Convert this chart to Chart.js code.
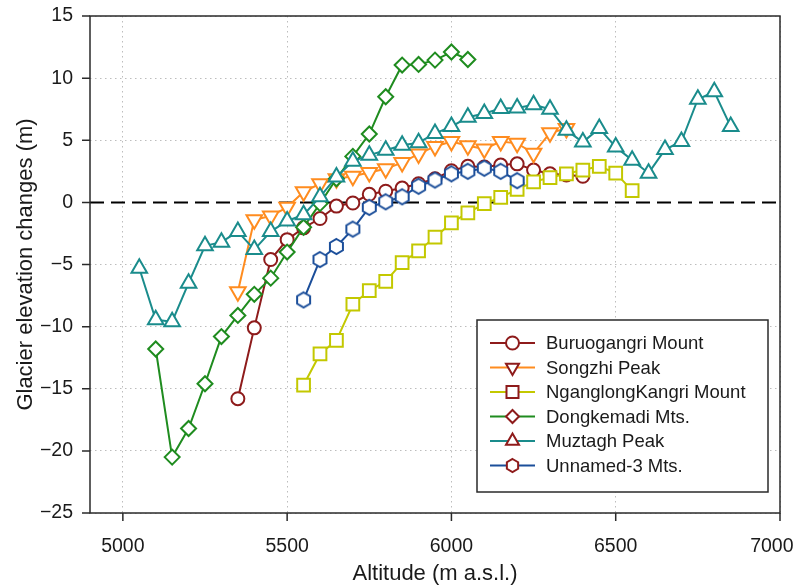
<!DOCTYPE html>
<html>
<head>
<meta charset="utf-8">
<script src="https://cdn.jsdelivr.net/npm/chart.js@4/dist/chart.umd.min.js"></script>
<style>
  html, body { margin: 0; padding: 0; background: #fff; }
  #wrap { width: 797px; height: 587px; }
</style>
</head>
<body>
<div id="wrap"><canvas id="c" width="797" height="587"></canvas></div>
<script>
// Glacier surface elevation change (m) per 50 m altitude band (m a.s.l.)
const buruoAlt = [5350,5400,5450,5500,5550,5600,5650,5700,5750,5800,5850,5900,5950,6000,6050,6100,6150,6200,6250,6300,6350,6400];
const buruoDh  = [-15.8,-10.1,-4.6,-3.0,-2.05,-1.3,-0.3,-0.05,0.65,0.9,1.15,1.5,1.9,2.55,2.9,2.85,3.0,3.1,2.6,2.3,2.2,2.1];

const songzhiAlt = [5350,5400,5450,5500,5550,5600,5650,5700,5750,5800,5850,5900,5950,6000,6050,6100,6150,6200,6250,6300,6350];
const songzhiDh  = [-7.2,-1.4,-1.1,-0.4,0.85,1.5,1.9,2.1,2.4,2.7,3.2,3.9,4.5,4.9,4.55,4.3,4.9,4.75,3.95,5.6,5.95];

const nganglongAlt = [5550,5600,5650,5700,5750,5800,5850,5900,5950,6000,6050,6100,6150,6200,6250,6300,6350,6400,6450,6500,6550];
const nganglongDh  = [-14.7,-12.2,-11.1,-8.2,-7.1,-6.35,-4.85,-3.9,-2.8,-1.65,-0.85,-0.1,0.4,1.05,1.65,2.0,2.3,2.6,2.9,2.35,0.95];

const dongkemadiAlt = [5100,5150,5200,5250,5300,5350,5400,5450,5500,5550,5600,5650,5700,5750,5800,5850,5900,5950,6000,6050];
const dongkemadiDh  = [-11.8,-20.5,-18.2,-14.6,-10.8,-9.1,-7.4,-6.1,-4.0,-2.0,-0.1,1.9,3.7,5.5,8.5,11.05,11.1,11.45,12.1,11.5];

const muztaghAlt = [5050,5100,5150,5200,5250,5300,5350,5400,5450,5500,5550,5600,5650,5700,5750,5800,5850,5900,5950,6000,6050,6100,6150,6200,6250,6300,6350,6400,6450,6500,6550,6600,6650,6700,6750,6800,6850];
const muztaghDh  = [-5.3,-9.45,-9.6,-6.5,-3.5,-3.2,-2.35,-3.8,-2.35,-1.5,-1.0,0.45,2.05,3.3,3.8,4.2,4.6,4.8,5.55,6.1,6.85,7.15,7.55,7.6,7.85,7.5,5.8,4.85,5.95,4.45,3.4,2.35,4.25,4.9,8.3,8.9,6.1];

const unnamedAlt = [5550,5600,5650,5700,5750,5800,5850,5900,5950,6000,6050,6100,6150,6200];
const unnamedDh  = [-7.85,-4.6,-3.55,-2.15,-0.4,0.05,0.45,1.3,1.8,2.3,2.5,2.75,2.5,1.75];

const seriesNames = ['Buruogangri Mount','Songzhi Peak','NganglongKangri Mount','Dongkemadi Mts.','Muztagh Peak','Unnamed-3 Mts.'];

const xTicks = [5000,5500,6000,6500,7000];
const yTicks = [-25,-20,-15,-10,-5,0,5,10,15];
const xRange = [4900,7000];
const yRange = [-25,15];

// ---- styling ----
const FONT = '"Liberation Sans", Arial, Helvetica, sans-serif';
const TEXT = '#1a1a1a';
const colors = ['#8e1b1b','#ff8c1f','#c3c800','#1f8c1f','#1a8c8c','#1b4e9a'];
const shapes = ['circle','triDown','square','diamond','triUp','hexagon'];
const legendMarkerColor = '#8e1b1b';

// marker outline path for the custom shapes
function markerPath(ctx, shape, x, y, r) {
  ctx.beginPath();
  if (shape === 'circle') {
    ctx.arc(x, y, r, 0, Math.PI * 2);
  } else if (shape === 'square') {
    const s = r * Math.SQRT1_2;
    ctx.rect(x - s, y - s, 2 * s, 2 * s);
  } else if (shape === 'diamond') {
    ctx.moveTo(x, y - r); ctx.lineTo(x + r, y); ctx.lineTo(x, y + r); ctx.lineTo(x - r, y);
    ctx.closePath();
  } else if (shape === 'triUp' || shape === 'triDown') {
    const base = shape === 'triUp' ? -Math.PI / 2 : Math.PI / 2;
    for (let k = 0; k < 3; k++) {
      const a = base + k * 2 * Math.PI / 3;
      const px = x + Math.cos(a) * r, py = y + Math.sin(a) * r;
      k ? ctx.lineTo(px, py) : ctx.moveTo(px, py);
    }
    ctx.closePath();
  } else if (shape === 'hexagon') {
    for (let k = 0; k < 6; k++) {
      const a = -Math.PI / 2 + k * Math.PI / 3;
      const px = x + Math.cos(a) * r, py = y + Math.sin(a) * r;
      k ? ctx.lineTo(px, py) : ctx.moveTo(px, py);
    }
    ctx.closePath();
  }
}

function drawMarker(ctx, shape, x, y, r, stroke) {
  markerPath(ctx, shape, x, y, r);
  ctx.fillStyle = '#fff';
  ctx.fill();
  ctx.lineWidth = 2;
  ctx.strokeStyle = stroke;
  ctx.stroke();
}

// hexagon is not a built-in point style, so render it to a small canvas
function hexImage(color, r) {
  const size = Math.ceil(2 * r + 4);
  const cv = document.createElement('canvas');
  cv.width = size; cv.height = size;
  drawMarker(cv.getContext('2d'), 'hexagon', size / 2, size / 2, r, color);
  return cv;
}

function pts(xs, ys) { return xs.map((x, i) => ({ x: x, y: ys[i] })); }

function series(i, xs, ys, pointStyle, radius, rotation) {
  return {
    label: seriesNames[i],
    data: pts(xs, ys),
    borderColor: colors[i],
    backgroundColor: '#ffffff',
    borderWidth: 2,
    pointStyle: pointStyle,
    pointRadius: radius,
    pointRotation: rotation || 0,
    pointBorderColor: colors[i],
    pointBackgroundColor: '#ffffff',
    pointBorderWidth: 2,
    tension: 0,
    order: 10 - i
  };
}

const datasets = [
  series(0, buruoAlt, buruoDh, 'circle', 6.5),
  series(1, songzhiAlt, songzhiDh, 'triangle', 9, 180),
  series(2, nganglongAlt, nganglongDh, 'rect', 9),
  series(3, dongkemadiAlt, dongkemadiDh, 'rectRot', 7.5),
  series(4, muztaghAlt, muztaghDh, 'triangle', 9),
  series(5, unnamedAlt, unnamedDh, hexImage(colors[5], 7.5), 7.5),
  {
    label: 'zero',
    data: [{ x: xRange[0], y: 0 }, { x: xRange[1], y: 0 }],
    borderColor: '#000',
    borderWidth: 2,
    borderDash: [14, 7],
    pointRadius: 0,
    order: 20
  }
];

// frame, outward tick marks and the boxed legend
const framePlugin = {
  id: 'frameAndLegend',
  afterDraw(chart) {
    const ctx = chart.ctx;
    const a = chart.chartArea;
    const xs = chart.scales.x, ys = chart.scales.y;
    ctx.save();
    ctx.strokeStyle = '#2a2a2a';
    ctx.lineWidth = 1.5;
    ctx.strokeRect(a.left, a.top, a.right - a.left, a.bottom - a.top);
    ctx.beginPath();
    xTicks.forEach(v => {
      const px = xs.getPixelForValue(v);
      ctx.moveTo(px, a.bottom); ctx.lineTo(px, a.bottom + 8);
    });
    yTicks.forEach(v => {
      const py = ys.getPixelForValue(v);
      ctx.moveTo(a.left, py); ctx.lineTo(a.left - 8, py);
    });
    ctx.stroke();

    // legend
    const bx = 477, by = 320, bw = 291, bh = 172;
    ctx.fillStyle = '#fff';
    ctx.fillRect(bx, by, bw, bh);
    ctx.lineWidth = 1.5;
    ctx.strokeStyle = '#2a2a2a';
    ctx.strokeRect(bx, by, bw, bh);
    ctx.font = '18.5px ' + FONT;
    ctx.textBaseline = 'middle';
    ctx.textAlign = 'left';
    seriesNames.forEach((name, i) => {
      const y = 343 + i * 24.5;
      ctx.beginPath();
      ctx.moveTo(490, y); ctx.lineTo(535, y);
      ctx.lineWidth = 2;
      ctx.strokeStyle = colors[i];
      ctx.stroke();
      const r = shapes[i] === 'square' ? 8.5 : (shapes[i].startsWith('tri') ? 7.5 : 6.5);
      drawMarker(ctx, shapes[i], 512.5, y, r, legendMarkerColor);
      ctx.fillStyle = TEXT;
      ctx.fillText(name, 546, y + 1);
    });
    ctx.restore();
  }
};

const gridDash = [1.5, 3.5];

// the last altitude label sits at the canvas edge, so it is nudged inward
const xLabel = v => v === xRange[1] ? String(v) + '\u00a0\u00a0\u00a0' : String(v);

new Chart(document.getElementById('c'), {
  type: 'line',
  data: { datasets: datasets },
  plugins: [framePlugin],
  options: {
    responsive: false,
    animation: false,
    events: [],
    layout: { padding: { top: 16, right: 17, left: 0, bottom: 0 } },
    plugins: { legend: { display: false }, tooltip: { enabled: false } },
    scales: {
      x: {
        type: 'linear',
        min: xRange[0], max: xRange[1],
        afterBuildTicks: s => { s.ticks = xTicks.map(v => ({ value: v })); },
        afterFit: s => { s.height = 74; s.paddingLeft = 0; s.paddingRight = 0; },
        border: { display: false, dash: gridDash },
        grid: { color: '#bdbdbd', lineWidth: 1, drawTicks: false },
        ticks: { font: { family: FONT, size: 19.5 }, color: TEXT, padding: 22, maxRotation: 0,
                 callback: xLabel },
        title: { display: true, text: 'Altitude (m a.s.l.)', font: { family: FONT, size: 22 }, color: TEXT, padding: { bottom: 0 } }
      },
      y: {
        type: 'linear',
        min: yRange[0], max: yRange[1],
        afterBuildTicks: s => { s.ticks = yTicks.map(v => ({ value: v })); },
        afterFit: s => { s.width = 90; s.paddingTop = 0; s.paddingBottom = 0; },
        border: { display: false, dash: gridDash },
        grid: {
          color: c => (c.tick && c.tick.value === 0) ? 'rgba(0,0,0,0)' : '#bdbdbd',
          lineWidth: 1, drawTicks: false
        },
        ticks: {
          font: { family: FONT, size: 19.5 }, color: TEXT, padding: 17,
          callback: v => String(v).replace('-', '\u2212')
        },
        title: { display: true, text: 'Glacier elevation changes (m)', font: { family: FONT, size: 22 }, color: TEXT, padding: { top: 13 } }
      }
    }
  }
});
</script>
</body>
</html>
